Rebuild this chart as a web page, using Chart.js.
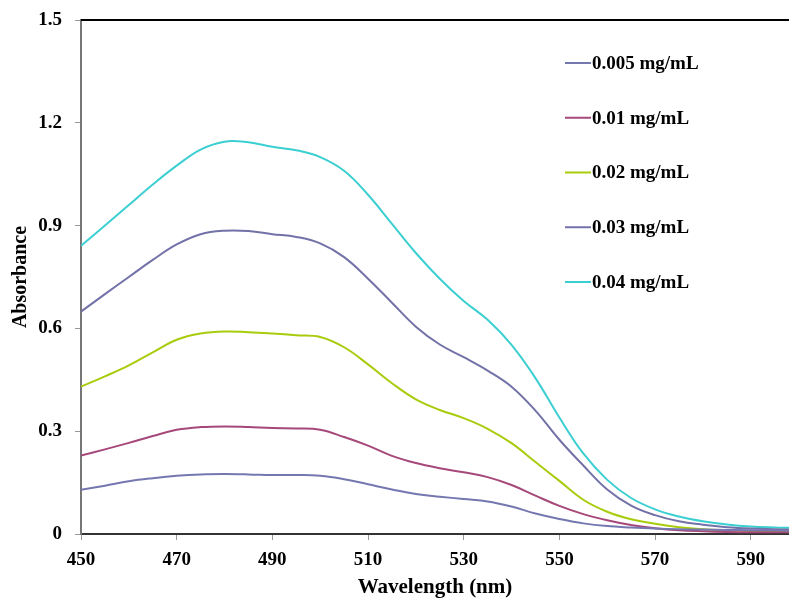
<!DOCTYPE html>
<html>
<head>
<meta charset="utf-8">
<script src="https://cdn.jsdelivr.net/npm/chart.js@4"></script>
<style>
  html, body { margin: 0; padding: 0; background: #fff; }
  #wrap { width: 789px; height: 599px; }
</style>
</head>
<body>
<div id="wrap"><canvas id="absChart" width="789" height="599"></canvas></div>
<script>
// wavelengths (nm)
const wavelengths = [450, 455, 460, 465, 470, 475, 480, 485, 490, 495, 500, 505, 510, 515, 520,
  525, 530, 535, 540, 545, 550, 555, 560, 565, 570, 575, 580, 585, 590, 595, 598];

const seriesNames = ['0.005 mg/mL', '0.01 mg/mL', '0.02 mg/mL', '0.03 mg/mL', '0.04 mg/mL'];

const abs005 = [0.129, 0.141, 0.154, 0.163, 0.170, 0.174, 0.175, 0.174, 0.172, 0.172, 0.170, 0.160, 0.145, 0.130, 0.117,
  0.109, 0.102, 0.095, 0.080, 0.060, 0.044, 0.031, 0.023, 0.019, 0.016, 0.014, 0.013, 0.012, 0.011, 0.011, 0.010];
const abs01 = [0.229, 0.247, 0.266, 0.286, 0.304, 0.312, 0.314, 0.312, 0.309, 0.308, 0.304, 0.283, 0.258, 0.228, 0.207,
  0.192, 0.180, 0.166, 0.143, 0.112, 0.082, 0.058, 0.040, 0.026, 0.017, 0.011, 0.008, 0.006, 0.005, 0.005, 0.005];
const abs02 = [0.430, 0.460, 0.492, 0.530, 0.567, 0.585, 0.591, 0.589, 0.585, 0.580, 0.575, 0.545, 0.495, 0.440, 0.393,
  0.362, 0.338, 0.307, 0.265, 0.210, 0.155, 0.100, 0.065, 0.043, 0.030, 0.020, 0.014, 0.011, 0.009, 0.008, 0.008];
const abs03 = [0.649, 0.700, 0.750, 0.800, 0.845, 0.875, 0.885, 0.884, 0.875, 0.867, 0.848, 0.808, 0.745, 0.675, 0.605,
  0.553, 0.516, 0.477, 0.430, 0.360, 0.275, 0.200, 0.130, 0.083, 0.055, 0.037, 0.027, 0.020, 0.016, 0.014, 0.013];
const abs04 = [0.841, 0.900, 0.960, 1.020, 1.075, 1.122, 1.145, 1.143, 1.130, 1.120, 1.100, 1.060, 0.990, 0.905, 0.820,
  0.745, 0.680, 0.625, 0.552, 0.455, 0.340, 0.235, 0.158, 0.105, 0.072, 0.051, 0.037, 0.028, 0.022, 0.019, 0.018];

const xTicks = [450, 470, 490, 510, 530, 550, 570, 590];
const yTicks = [0, 0.3, 0.6, 0.9, 1.2, 1.5];

const seriesValues = [abs005, abs01, abs02, abs03, abs04];
const colors = ['#7577b0', '#a6487a', '#a8cc0c', '#7372a8', '#3ccfd2'];

const FONT = "'Liberation Serif', 'Times New Roman', serif";

// legend drawn inside the plot, right side
const innerLegend = {
  id: 'innerLegend',
  afterDraw(chart) {
    const c = chart.ctx;
    c.save();
    c.font = 'bold 19px ' + FONT;
    c.textBaseline = 'middle';
    c.textAlign = 'left';
    chart.data.datasets.forEach((ds, i) => {
      const y = 63 + i * 54.75;
      c.strokeStyle = ds.borderColor;
      c.lineWidth = 2;
      c.beginPath();
      c.moveTo(565, y);
      c.lineTo(591, y);
      c.stroke();
      c.fillStyle = '#000';
      c.fillText(ds.label, 592, y + 1);
    });
    c.restore();
  }
};

// black top frame line
const topFrame = {
  id: 'topFrame',
  afterDraw(chart) {
    const a = chart.chartArea;
    const c = chart.ctx;
    c.save();
    c.strokeStyle = '#000';
    c.lineWidth = 2;
    c.beginPath();
    c.moveTo(a.left, a.top);
    c.lineTo(a.right, a.top);
    c.stroke();
    c.restore();
  }
};

const ctx = document.getElementById('absChart').getContext('2d');
new Chart(ctx, {
  type: 'line',
  data: {
    datasets: seriesNames.map((name, i) => ({
      label: name,
      data: wavelengths.map((w, j) => ({ x: w, y: seriesValues[i][j] })),
      borderColor: colors[i],
      backgroundColor: colors[i],
      borderWidth: 2,
      pointRadius: 0,
      tension: 0.4,
      fill: false
    }))
  },
  options: {
    responsive: false,
    animation: false,
    layout: { padding: { top: 20, right: 0, left: 0, bottom: 0 } },
    plugins: {
      legend: { display: false },
      tooltip: { enabled: false }
    },
    scales: {
      x: {
        type: 'linear',
        min: 450,
        max: 598,
        afterBuildTicks: s => { s.ticks = xTicks.map(v => ({ value: v })); },
        afterFit: s => { s.height = 65; s.paddingRight = 0; s.paddingLeft = 0; },
        grid: { display: true, drawOnChartArea: false, drawTicks: true, tickLength: 6, color: '#999' },
        border: { display: true, color: '#333', width: 2 },
        ticks: { color: '#000', font: { family: FONT, size: 19, weight: 'bold' }, padding: 9, maxRotation: 0 },
        title: {
          display: true,
          text: 'Wavelength (nm)',
          color: '#000',
          font: { family: FONT, size: 21, weight: 'bold' },
          padding: { top: 0, bottom: -1 }
        }
      },
      y: {
        min: 0,
        max: 1.5,
        afterBuildTicks: s => { s.ticks = yTicks.map(v => ({ value: v })); },
        afterFit: s => { s.width = 81; s.paddingTop = 0; s.paddingBottom = 0; },
        grid: { display: true, drawOnChartArea: false, drawTicks: true, tickLength: 6, color: '#999' },
        border: { display: true, color: '#777', width: 2 },
        ticks: {
          color: '#000',
          font: { family: FONT, size: 19, weight: 'bold' },
          padding: 13,
          callback: v => String(v)
        },
        title: {
          display: true,
          text: 'Absorbance',
          color: '#000',
          font: { family: FONT, size: 20, weight: 'bold' },
          padding: { top: 9, bottom: 0 }
        }
      }
    }
  },
  plugins: [innerLegend, topFrame]
});
</script>
</body>
</html>
